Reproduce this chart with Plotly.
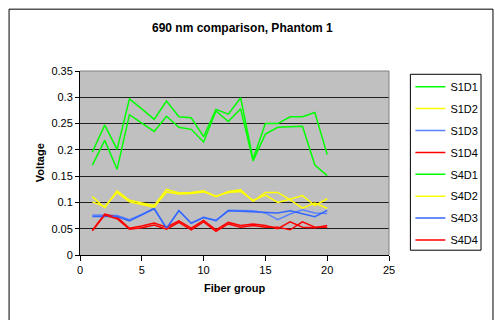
import plotly.graph_objects as go

fiber_group = list(range(1, 21))

s1d1 = [0.196, 0.247, 0.201, 0.297, 0.278, 0.258, 0.293, 0.263, 0.261, 0.225,
        0.277, 0.268, 0.299, 0.182, 0.250, 0.250, 0.263, 0.263, 0.271, 0.191]
s1d2 = [0.111, 0.090, 0.122, 0.104, 0.099, 0.094, 0.125, 0.118, 0.119, 0.122,
        0.111, 0.121, 0.124, 0.102, 0.119, 0.119, 0.105, 0.089, 0.099, 0.089]
s1d3 = [0.076, 0.075, 0.075, 0.067, 0.077, 0.089, 0.050, 0.085, 0.061, 0.072,
        0.065, 0.085, 0.084, 0.084, 0.080, 0.067, 0.078, 0.086, 0.080, 0.079]
s1d4 = [0.047, 0.078, 0.072, 0.051, 0.055, 0.061, 0.053, 0.065, 0.051, 0.066,
        0.048, 0.062, 0.056, 0.059, 0.056, 0.050, 0.063, 0.053, 0.052, 0.056]
s4d1 = [0.171, 0.218, 0.163, 0.267, 0.251, 0.235, 0.264, 0.243, 0.239, 0.215,
        0.274, 0.254, 0.278, 0.179, 0.230, 0.243, 0.244, 0.245, 0.171, 0.151]
s4d2 = [0.101, 0.092, 0.119, 0.101, 0.096, 0.091, 0.120, 0.116, 0.117, 0.120,
        0.112, 0.119, 0.121, 0.104, 0.114, 0.100, 0.106, 0.113, 0.094, 0.107]
s4d3 = [0.073, 0.073, 0.073, 0.065, 0.076, 0.088, 0.051, 0.084, 0.060, 0.071,
        0.066, 0.084, 0.083, 0.082, 0.081, 0.080, 0.084, 0.079, 0.073, 0.085]
s4d4 = [0.046, 0.076, 0.069, 0.049, 0.052, 0.057, 0.049, 0.062, 0.048, 0.063,
        0.045, 0.059, 0.053, 0.056, 0.053, 0.053, 0.048, 0.063, 0.053, 0.053]

series_names = ["S1D1", "S1D2", "S1D3", "S1D4", "S4D1", "S4D2", "S4D3", "S4D4"]
series_values = [s1d1, s1d2, s1d3, s1d4, s4d1, s4d2, s4d3, s4d4]
series_colors = ["#00FF00", "#FFFF00", "#5A82FF", "#FF0000",
                 "#00FF00", "#FFFF00", "#3366FF", "#FF0000"]

x_ticks = [0, 5, 10, 15, 20, 25]
y_ticks = [0, 0.05, 0.1, 0.15, 0.2, 0.25, 0.3, 0.35]

FONT = "Arial, Liberation Sans, sans-serif"

fig = go.Figure()
for name, vals, col in zip(series_names, series_values, series_colors):
    fig.add_trace(go.Scatter(
        x=fiber_group, y=vals, name=name, mode="lines",
        line=dict(color=col, width=1.5), legendgroup=name,
    ))

# plot area geometry in pixels
L, R, T, B = 80, 398, 71, 255.5
W, H = 495, 320
pw, ph = R - L, B - T


def px_x(p):
    return (p - L) / pw


def px_y(p):
    return (B - p) / ph


fig.update_layout(
    width=W, height=H,
    margin=dict(l=L, r=W - R, t=T, b=H - B, pad=0),
    paper_bgcolor="white",
    plot_bgcolor="#C0C0C0",
    font=dict(family=FONT, size=11, color="black"),
    showlegend=True,
    legend=dict(
        x=px_x(420), y=px_y(72.2), xanchor="left", yanchor="top",
        bgcolor="rgba(0,0,0,0)", borderwidth=0,
        font=dict(family=FONT, size=11, color="black"),
        maxheight=400, tracegroupgap=2.9,
    ),
    xaxis=dict(
        range=[0, 25], tickvals=x_ticks, ticktext=[str(v) for v in x_ticks],
        showgrid=False, zeroline=False,
        showline=True, linecolor="black", linewidth=1,
        ticks="outside", ticklen=5, tickcolor="black",
        tickfont=dict(size=11),
    ),
    yaxis=dict(
        range=[0, 0.35], tickvals=y_ticks, ticktext=[f"{v:g}" for v in y_ticks],
        showgrid=True, gridcolor="#202020", gridwidth=1, zeroline=False,
        showline=True, linecolor="black", linewidth=1,
        ticks="outside", ticklen=4, tickcolor="black",
        tickfont=dict(size=11),
    ),
    shapes=[
        # outer chart frame
        dict(type="rect", xref="paper", yref="paper", layer="below",
             x0=px_x(7), y0=px_y(330), x1=px_x(505), y1=px_y(9),
             line=dict(color="black", width=1), fillcolor="rgba(0,0,0,0)"),
        # legend box
        dict(type="rect", xref="paper", yref="paper", layer="below",
             x0=px_x(420), y0=px_y(250.7), x1=px_x(492.7), y1=px_y(74.3),
             line=dict(color="black", width=1), fillcolor="white"),
        # top and right border of the plot area
        dict(type="line", xref="paper", yref="paper", x0=0, y0=1, x1=1, y1=1,
             line=dict(color="#808080", width=1)),
        dict(type="line", xref="paper", yref="paper", x0=1, y0=0, x1=1, y1=1,
             line=dict(color="#808080", width=1)),
    ],
    annotations=[
        dict(text="<b>690 nm comparison, Phantom 1</b>", xref="paper", yref="paper",
             x=px_x(247), y=px_y(19), showarrow=False,
             font=dict(size=12, family=FONT, color="black")),
        dict(text="<b>Fiber group</b>", xref="paper", yref="paper",
             x=px_x(239), y=px_y(297), showarrow=False,
             font=dict(size=11, family=FONT, color="black")),
        dict(text="<b>Voltage</b>", xref="paper", yref="paper",
             x=px_x(30), y=px_y(163), showarrow=False, textangle=-90,
             font=dict(size=11, family=FONT, color="black")),
    ],
)

fig.write_html("out.html")
